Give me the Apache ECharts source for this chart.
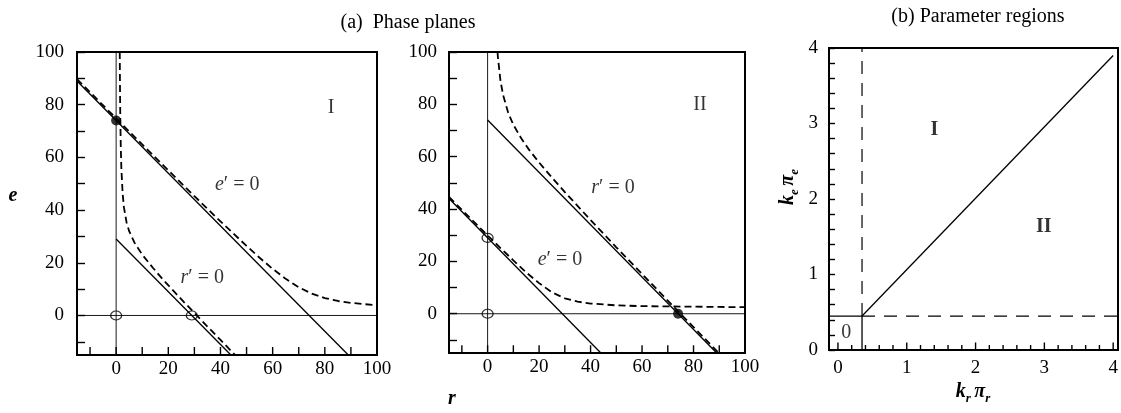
<!DOCTYPE html>
<html>
<head>
<meta charset="utf-8">
<script src="https://cdn.jsdelivr.net/npm/echarts@6/dist/echarts.min.js"></script>
<style>
html, body { margin: 0; padding: 0; background: #fff; }
#chart { width: 1121px; height: 413px; }
</style>
</head>
<body>
<div id="chart"></div>
<script>
// ---------- phase-plane axes (r horizontal, e vertical) ----------
const phaseRange = [-15, 100];
const phaseTicks = [-10, 0, 10, 20, 30, 40, 50, 60, 70, 80, 90, 100];
const phaseLabels = [0, 20, 40, 60, 80, 100];

// ---------- parameter-region axes ----------
const krRange = [-0.13, 4.07];
const keRange = [0, 4];
const kTicks = [0, 0.2, 0.4, 0.6, 0.8, 1, 1.2, 1.4, 1.6, 1.8, 2, 2.2, 2.4, 2.6, 2.8, 3,
  3.2, 3.4, 3.6, 3.8, 4];
const kLabels = [0, 1, 2, 3, 4];

// ---------- coordinate axes drawn inside both phase planes ----------
const zeroVertical = [[0, -15], [0, 100]];
const zeroHorizontal = [[-15, 0], [100, 0]];

// ---------- phase plane I ----------
const planeI_eLine = [[-15, 89], [89, -15]];
const planeI_rLine = [[0, 29], [44, -15]];
const planeI_eNull = [[-15, 89.7], [0, 74.8], [10, 64.9], [20, 55.1], [30, 45.3], [40, 35.7], [50, 26.4],
  [55, 21.9], [60, 17.7], [65, 13.9], [70, 10.7], [75, 8.3], [80, 6.6], [85, 5.5], [90, 4.8], [95, 4.3], [100, 3.9]];
const planeI_rNull = [[1.39, 100], [1.45, 90.8], [1.5, 84.5], [1.6, 75.1], [1.8, 63.2], [2, 56], [2.5, 46.2],
  [3, 41], [4, 35.3], [5, 32], [7, 27.7], [10, 23.1], [14, 18.2], [18, 13.6], [22, 9.3], [26, 5.1],
  [30, 1], [35, -4.2], [40, -9.3], [46, -15.4]];
const planeI_stable = [[0, 74]];
const planeI_unstable = [[0, 0], [29, 0]];

// ---------- phase plane II ----------
const planeII_rLine = [[0, 74], [89, -15]];
const planeII_eLine = [[-15, 44], [44, -15]];
const planeII_rNull = [[3.85, 100], [4, 98], [5, 89], [6, 83.6], [8, 76.8], [10, 72.2], [13, 67.1], [16, 62.8],
  [20, 57.8], [25, 52], [30, 46.5], [40, 35.8], [50, 25.4], [60, 15.2], [70, 5], [80, -5.1], [90, -15.2]];
const planeII_eNull = [[-15, 44.6], [-10, 39.7], [-5, 34.8], [0, 29.9], [5, 25.1], [10, 20.4], [15, 15.8],
  [20, 11.7], [25, 8.2], [30, 5.9], [35, 4.6], [40, 3.9], [50, 3.2], [60, 2.9], [70, 2.8], [80, 2.7],
  [90, 2.6], [100, 2.5]];
const planeII_stable = [[74, 0]];
const planeII_unstable = [[0, 0], [0, 29]];

// ---------- parameter regions ----------
const regionSolidTop = [[-0.13, 0.45], [0.35, 0.45]];
const regionSolidSide = [[0.35, 0], [0.35, 0.45]];
const regionDiagonal = [[0.35, 0.45], [4, 3.9]];
const regionDashedV = [[0.35, 0.45], [0.35, 4]];
const regionDashedH = [[0.35, 0.45], [4.07, 0.45]];

// ---------- in-plot annotations ----------
const planeI_notes = [{ value: [82.4, 79], text: 'I' }, { value: [46.4, 49.5], text: '{i|e}′ = 0' }, { value: [33, 14.2], text: '{i|r}′ = 0' }];
const planeII_notes = [{ value: [82.5, 79.7], text: 'II' }, { value: [48.7, 48], text: '{i|r}′ = 0' }, { value: [28.1, 20.5], text: '{i|e}′ = 0' }];
const region_notes = [{ value: [1.4, 2.92], text: '{b|I}' }, { value: [2.99, 1.63], text: '{b|II}' }, { value: [0.12, 0.23], text: '0' }];

const SERIF = "'Liberation Serif', 'DejaVu Serif', serif";
const INK = '#000';

// plot boxes (pixel layout of the three panels)
const BOXES = [
  { left: 77, top: 52, width: 300, height: 303 },
  { left: 449, top: 52, width: 296, height: 301 },
  { left: 829, top: 48, width: 289, height: 302 }
];

// left / bottom frame side with labels; the vertical axes carry their own inward ticks
function axis(grid, range, ticks, len, labels, margin, showTicks) {
  return {
    gridIndex: grid, type: 'value', min: range[0], max: range[1],
    axisLine: { onZero: false, lineStyle: { color: INK, width: 2 } },
    splitLine: { show: false },
    axisTick: { show: showTicks, inside: true, length: len, customValues: ticks, lineStyle: { color: INK, width: 1.4 } },
    axisLabel: { customValues: labels, fontFamily: SERIF, fontSize: 19, color: INK, margin: margin }
  };
}

function line(xi, yi, data, width, dash) {
  return {
    type: 'line', xAxisIndex: xi, yAxisIndex: yi, data: data, symbol: 'none', silent: true,
    animation: false, clip: true,
    lineStyle: { color: INK, width: width, type: dash || 'solid' }
  };
}
// inward tick marks along the bottom edge: one short segment per tick value
function bottomTicks(xi, yi, ticks, yBase, majorLen, minorLen) {
  return ticks.map(t => line(xi, yi, [[t, yBase], [t, yBase + (t % 1 === 0 ? majorLen : minorLen)]], 1.4));
}
function dots(xi, yi, data, filled) {
  return {
    type: 'scatter', xAxisIndex: xi, yAxisIndex: yi, data: data, animation: false, silent: true, z: 5,
    symbol: 'circle', symbolSize: filled ? 10 : [11, 9],
    itemStyle: filled ? { color: INK } : { color: 'rgba(0,0,0,0)', borderColor: INK, borderWidth: 1.2 }
  };
}
function notes(xi, yi, items) {
  return {
    type: 'scatter', xAxisIndex: xi, yAxisIndex: yi, animation: false, silent: true, symbolSize: 0, z: 6,
    data: items.map(d => ({ value: d.value, text: d.text })),
    label: {
      show: true, position: 'inside', color: INK, fontFamily: SERIF, fontSize: 20,
      formatter: p => p.data.text,
      rich: {
        i: { fontFamily: SERIF, fontSize: 20, fontStyle: 'italic', color: INK },
        b: { fontFamily: SERIF, fontSize: 20, fontWeight: 'bold', color: INK }
      }
    }
  };
}

const DASH_PHASE = [7, 4];
const DASH_REGION = [13, 9];
const TITLE_FONT = '20px ' + SERIF;
const NAME_FONT = 'italic bold 20px ' + SERIF;
const SUB_FONT = 'italic bold 13px ' + SERIF;

function plainText(x, y, text, font) {
  return {
    type: 'text', x: x, y: y,
    style: { text: text, font: font, fill: INK, align: 'center', verticalAlign: 'middle' }
  };
}
function subscriptName(x, y, sub, rotation) {
  return {
    type: 'text', x: x, y: y, rotation: rotation || 0,
    style: {
      text: '{m|k}{s|' + sub + '} {m|π}{s|' + sub + '}', align: 'center', verticalAlign: 'middle', fill: INK,
      rich: {
        m: { font: NAME_FONT, fill: INK, lineHeight: 26 },
        s: { font: SUB_FONT, fill: INK, lineHeight: 26, verticalAlign: 'bottom' }
      }
    }
  };
}
function frame(b) {
  return {
    type: 'rect', z: 50, silent: true,
    shape: { x: b.left, y: b.top, width: b.width, height: b.height },
    style: { fill: null, stroke: INK, lineWidth: 2 }
  };
}

const chart = echarts.init(document.getElementById('chart'), null, { renderer: 'canvas' });
chart.setOption({
  backgroundColor: '#fff',
  animation: false,
  grid: BOXES.map(b => Object.assign({}, b)),
  xAxis: [
    axis(0, phaseRange, phaseTicks, 8, phaseLabels, 5, false),
    axis(1, phaseRange, phaseTicks, 8, phaseLabels, 5, false),
    axis(2, krRange, kTicks, 6, kLabels, 9, false)
  ],
  yAxis: [
    axis(0, phaseRange, phaseTicks, 8, phaseLabels, 13, true),
    axis(1, phaseRange, phaseTicks, 8, phaseLabels, 12, true),
    axis(2, keRange, kTicks, 6, kLabels, 11, true)
  ],
  series: [
    // phase plane I
    ...bottomTicks(0, 0, phaseTicks, phaseRange[0], 3, 3),
    line(0, 0, zeroVertical, 0.9),
    line(0, 0, zeroHorizontal, 0.9),
    line(0, 0, planeI_eLine, 1.3),
    line(0, 0, planeI_rLine, 1.3),
    line(0, 0, planeI_eNull, 1.8, DASH_PHASE),
    line(0, 0, planeI_rNull, 1.8, DASH_PHASE),
    dots(0, 0, planeI_stable, true),
    dots(0, 0, planeI_unstable, false),
    notes(0, 0, planeI_notes),
    // phase plane II
    ...bottomTicks(1, 1, phaseTicks, phaseRange[0], 3, 3),
    line(1, 1, zeroVertical, 0.9),
    line(1, 1, zeroHorizontal, 0.9),
    line(1, 1, planeII_rLine, 1.3),
    line(1, 1, planeII_eLine, 1.3),
    line(1, 1, planeII_rNull, 1.8, DASH_PHASE),
    line(1, 1, planeII_eNull, 1.8, DASH_PHASE),
    dots(1, 1, planeII_stable, true),
    dots(1, 1, planeII_unstable, false),
    notes(1, 1, planeII_notes),
    // parameter regions
    ...bottomTicks(2, 2, kTicks, keRange[0], 0.1, 0.065),
    line(2, 2, regionSolidTop, 1.3),
    line(2, 2, regionSolidSide, 1.3),
    line(2, 2, regionDiagonal, 1.3),
    line(2, 2, regionDashedV, 1.2, DASH_REGION),
    line(2, 2, regionDashedH, 1.2, DASH_REGION),
    notes(2, 2, region_notes)
  ],
  graphic: [
    ...BOXES.map(frame),
    plainText(408, 23, '(a)  Phase planes', TITLE_FONT),
    plainText(978, 17, '(b) Parameter regions', TITLE_FONT),
    plainText(13, 196, 'e', NAME_FONT),
    plainText(452, 399, 'r', NAME_FONT),
    subscriptName(973, 392, 'r'),
    subscriptName(788, 187, 'e', Math.PI / 2)
  ]
});
</script>
</body>
</html>
